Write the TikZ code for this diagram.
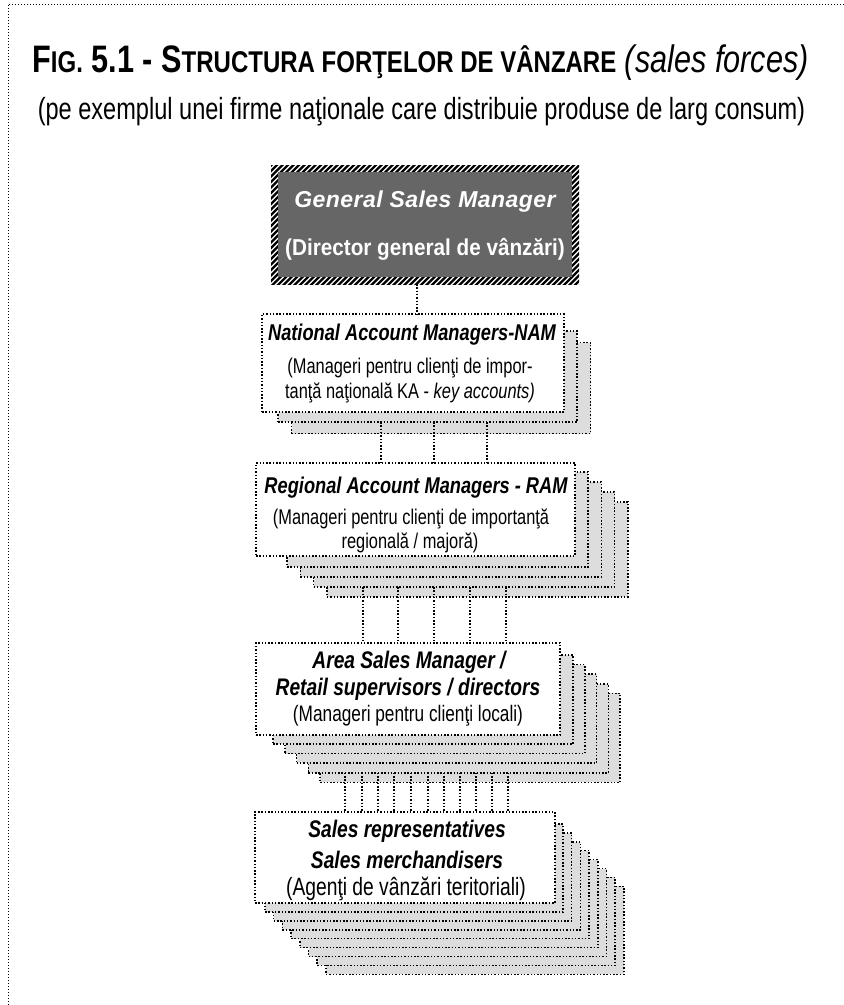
\documentclass[tikz,border=0pt]{standalone}
\usepackage{fontspec}
\setmainfont{Liberation Sans}
\newfontfamily\nar[FakeStretch=0.8]{Liberation Sans}
\newfontfamily\narr[FakeStretch=0.77]{Liberation Sans}
\newfontfamily\semi[FakeStretch=0.9]{Liberation Sans}
\newfontfamily\wide[LetterSpace=2]{Liberation Sans}
\definecolor{shade}{HTML}{DDDDDD}
\definecolor{boss}{HTML}{666666}
\newcommand\smc[1]{{\fontsize{30}{30}\selectfont #1}}
\newcommand\fs[1]{\fontsize{#1}{#1}\selectfont}
% a rectangle node given by its corners (x1,y1) and (x2,y2)
\newcommand\placebox[6]{%
  \pgfmathsetmacro\bw{(#5)-(#3)}\pgfmathsetmacro\bh{(#6)-(#4)}%
  \pgfmathsetmacro\bx{((#3)+(#5))/2}\pgfmathsetmacro\by{((#4)+(#6))/2}%
  \node[#1, minimum width=\bw pt, minimum height=\bh pt] (#2) at (\bx,\by) {};}
\tikzset{
  dotline/.style={line width=1.5pt, dash pattern=on 1.5pt off 1.8pt},
  framedots/.style={line width=1pt, dash pattern=on 1pt off 2pt},
  frontbox/.style={draw, dotline, fill=white, inner sep=0pt, outer sep=0pt},
  backbox/.style={draw, dotline, fill=shade, inner sep=0pt, outer sep=0pt},
  txt/.style={inner sep=0pt, align=center},
  head/.style={txt, font=\nar\bfseries\itshape\fs{#1}},
  note/.style={txt, font=\narr\fs{#1}},
}
\begin{document}
\begin{tikzpicture}[x=1pt, y=-1pt]
\useasboundingbox (0,0) rectangle (844,1005);
% page frame
\draw[framedots] (8,1005) -- (8,4) -- (844,4);

% heading
\node[anchor=base, inner sep=0pt, font=\nar\bfseries\fs{38.3}] (title) at (420.5,72)
  {F\smc{IG.} 5.1 - S\smc{TRUCTURA FORŢELOR DE VÂNZARE} {\mdseries\itshape (sales forces)}};
\node[anchor=base, inner sep=0pt, font=\narr\fs{30.6}] (subtitle) at (421.5,119)
  {(pe exemplul unei firme naţionale care distribuie produse de larg consum)};

% general sales manager: hatched frame around a dark panel
\placebox{draw=none, fill=white, inner sep=0pt, outer sep=0pt}{gsm}{271}{165}{579}{284}
\begin{scope}
  \clip (gsm.south west) rectangle (gsm.north east);
  \foreach \k in {0,...,82}
    \draw[line width=2.2pt] (141+\k*5.5,290) -- ++(130,-130);
\end{scope}
\placebox{fill=boss, inner sep=0pt, outer sep=0pt}{gsmcore}{278}{172}{572}{277}
\node[txt, text=white, font=\wide\bfseries\itshape\fs{23}] (gsm-en) at (425,202) {General Sales Manager};
\node[txt, text=white, font=\semi\bfseries\fs{23}] (gsm-ro) at (425,249) {(Director general de vânzări)};

% national account managers
\foreach \i in {2,1} {
  \pgfmathsetmacro\dx{13.5*(\i-1)}\pgfmathsetmacro\dy{11.5*(\i-1)}
  \placebox{backbox}{nam-s\i}{278+\dx}{331+\dy}{577+\dx}{422+\dy}
}
\placebox{frontbox}{nam}{262}{314}{564}{412}
\node[head=22.8] (nam-1) at (412,335) {National Account Managers-NAM};
\node[note=21.3] (nam-2) at (410,368) {(Manageri pentru clienţi de impor-};
\node[note=21.3] (nam-3) at (410,393) {tanţă naţională KA - \textit{key accounts)}};

% regional account managers
\foreach \i in {4,3,2,1} {
  \pgfmathsetmacro\dx{13.3*(\i-1)}\pgfmathsetmacro\dy{10*(\i-1)}
  \placebox{backbox}{ram-s\i}{287+\dx}{472+\dy}{588+\dx}{567+\dy}
}
\placebox{frontbox}{ram}{256}{463}{575}{556}
\node[head=22.8] (ram-1) at (416,488) {Regional Account Managers - RAM};
\node[note=21.3] (ram-2) at (411,519) {(Manageri pentru clienţi de importanţă};
\node[note=21.3] (ram-3) at (410,543) {regională / majoră)};

% area sales managers
\foreach \i in {5,4,3,2,1} {
  \pgfmathsetmacro\dx{11.8*(\i-1)}\pgfmathsetmacro\dy{9.6*(\i-1)}
  \placebox{backbox}{asm-s\i}{273+\dx}{655+\dy}{573+\dx}{744+\dy}
}
\placebox{frontbox}{asm}{256}{643}{560}{735}
\node[head=24] (asm-1) at (409,662) {Area Sales Manager /};
\node[head=24] (asm-2) at (408,689) {Retail supervisors / directors};
\node[note=22.4] (asm-3) at (408,716) {(Manageri pentru clienţi locali)};

% sales representatives
\foreach \i in {8,7,...,1} {
  \pgfmathsetmacro\dx{8.7*(\i-1)}\pgfmathsetmacro\dy{8.9*(\i-1)}
  \placebox{backbox}{sr-s\i}{265+\dx}{824+\dy}{563+\dx}{912+\dy}
}
\placebox{frontbox}{sr}{255}{812}{555}{903}
\node[head=24] (sr-1) at (407,831) {Sales representatives};
\node[head=24] (sr-2) at (407,860) {Sales merchandisers};
\node[note=25] (sr-3) at (406,889) {(Agenţi de vânzări teritoriali)};

% reporting lines
\draw[dotline] (417,0 |- gsm.south) -- (417,0 |- nam.north);
\foreach \x in {381,434,487}
  \draw[dotline] (\x,0 |- nam-s1.south) -- (\x,0 |- ram.north);
\foreach \x in {363,398,434,470,506}
  \draw[dotline] (\x,0 |- ram-s3.south) -- (\x,0 |- asm.north);
\foreach \x in {345,362,378,394,411,428,444,460,476,492,508}
  \draw[dotline] (\x,0 |- asm-s4.south) -- (\x,0 |- sr.north);
\end{tikzpicture}
\end{document}
